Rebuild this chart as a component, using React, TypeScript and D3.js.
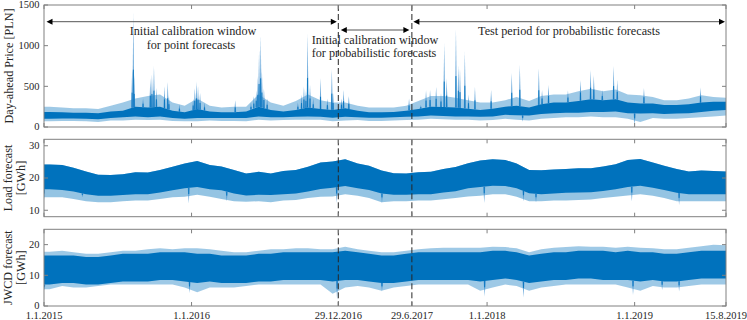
import React from 'react';
import * as d3 from 'd3';

// ---------- DATA (monthly envelopes, Jan 2015 .. Aug 2019) ----------
const priceMin = [
  70, 75, 75, 70, 60, 80, 80, 90, 85, 90, 75, 70,
  70, 80, 75, 75, 70, 90, 80, 85, 90, 90, 90, 70,
  80, 85, 75, 75, 80, 85, 90, 100, 95, 90, 90, 80,
  85, 100, 90, 80, 100, 110, 120, 120, 130, 120, 120, 100,
  60, 110, 100, 100, 110, 120, 130, 140,
];
const priceLo = [
  100, 105, 105, 100, 95, 110, 120, 130, 120, 130, 110, 100,
  110, 110, 110, 110, 110, 130, 120, 120, 125, 130, 125, 115,
  125, 120, 115, 115, 120, 125, 130, 140, 135, 130, 130, 125,
  130, 150, 145, 140, 160, 170, 175, 175, 185, 185, 190, 170,
  165, 170, 160, 165, 170, 185, 200, 210,
];
const priceHi = [
  185, 180, 175, 175, 170, 190, 200, 250, 240, 250, 200, 180,
  220, 190, 180, 180, 190, 250, 210, 190, 210, 240, 220, 210,
  230, 200, 180, 180, 185, 200, 220, 250, 245, 240, 225, 210,
  225, 250, 260, 240, 280, 300, 300, 320, 340, 330, 340, 300,
  290, 290, 270, 270, 280, 300, 310, 310,
];
const priceMax = [
  250, 240, 230, 230, 220, 260, 300, 350, 380, 400, 300, 260,
  350, 260, 240, 250, 250, 400, 300, 260, 320, 400, 330, 300,
  300, 260, 240, 240, 240, 260, 320, 380, 380, 360, 330, 300,
  300, 330, 370, 320, 380, 400, 400, 440, 470, 440, 460, 400,
  390, 370, 330, 330, 350, 390, 370, 360,
];
const priceSpikeDates = [
  '2015-08-07', '2015-08-10', '2015-08-12', '2015-09-03', '2015-09-21', '2015-09-25', '2015-09-30',
  '2015-10-06', '2015-10-26', '2015-11-03', '2015-11-06', '2015-12-02', '2016-01-05', '2016-01-09',
  '2016-01-13', '2016-01-17', '2016-01-22', '2016-02-02', '2016-04-18', '2016-05-27', '2016-06-03',
  '2016-06-09', '2016-06-13', '2016-06-16', '2016-06-20', '2016-06-23', '2016-06-28', '2016-07-06',
  '2016-09-20', '2016-09-29', '2016-10-05', '2016-10-10', '2016-10-14', '2016-10-20', '2016-10-28',
  '2016-11-15', '2016-12-02', '2016-12-13', '2016-12-16', '2017-01-06', '2017-01-11', '2017-01-24',
  '2017-06-22', '2017-07-21', '2017-08-03', '2017-08-13', '2017-08-28', '2017-09-09', '2017-09-17',
  '2017-09-23', '2017-10-16', '2017-10-22', '2017-10-26', '2017-11-07', '2017-11-16', '2017-12-02',
  '2018-01-11', '2018-03-03', '2018-03-23', '2018-05-09', '2018-05-17', '2018-06-02', '2018-07-20',
  '2018-08-20', '2018-09-14', '2018-09-22', '2018-10-13', '2018-11-10', '2018-11-19', '2019-01-24',
  '2019-06-13',
];
const priceSpikeValues = [
  700, 1400, 650, 350, 600, 650, 750,
  480, 500, 555, 380, 280, 350, 480,
  555, 500, 420, 300, 330, 300, 380,
  450, 620, 950, 1130, 700, 480, 350,
  300, 400, 500, 450, 1150, 520, 350,
  600, 350, 710, 420, 350, 455, 380,
  350, 270, 455, 455, 495, 415, 1030,
  600, 1205, 760, 720, 925, 395, 495,
  455, 668, 762, 721, 455, 516, 450,
  578, 700, 640, 455, 750, 578, 480,
  488,
];
const priceDipDates = ['2018-03-30', '2019-01-01'];
const priceDipValues = [65, 15];

const loadMin = [
  14.0, 14.0, 13.5, 12.8, 12.5, 12.5, 12.8, 13.0, 13.0, 13.5, 14.0, 14.2,
  14.8, 14.2, 13.5, 12.8, 12.6, 12.8, 12.5, 13.0, 13.2, 13.8, 14.2, 14.3,
  15.0, 14.5, 13.8, 12.5, 12.8, 12.8, 13.0, 13.0, 13.4, 13.8, 14.3, 14.5,
  15.0, 15.0, 14.2, 12.8, 12.8, 13.0, 13.0, 13.2, 13.3, 13.8, 14.2, 14.6,
  15.0, 14.5, 13.8, 12.8, 12.8, 12.8, 12.8, 12.8,
];
const loadLo = [
  16.5, 16.3, 15.8, 15.0, 14.5, 14.5, 14.7, 15.0, 15.0, 15.5, 16.2, 16.8,
  17.2, 16.5, 16.2, 15.2, 14.6, 14.8, 14.7, 15.0, 15.2, 15.8, 16.6, 17.0,
  17.5, 16.8, 16.3, 15.2, 14.8, 14.8, 15.0, 15.0, 15.5, 15.9, 16.8, 17.2,
  17.6, 17.5, 16.8, 15.3, 15.0, 15.2, 15.4, 15.5, 15.6, 16.0, 16.5, 17.2,
  17.6, 17.0, 16.3, 15.4, 15.0, 15.0, 15.0, 15.0,
];
const loadHi = [
  24.2, 24.0, 23.2, 22.0, 21.0, 20.9, 21.2, 21.8, 21.7, 22.5, 23.5, 24.5,
  25.3, 24.0, 23.6, 22.5, 21.4, 21.9, 21.4, 22.2, 22.5, 23.5, 24.8, 25.1,
  25.8, 24.5, 23.8, 22.3, 21.5, 21.4, 21.8, 21.9, 22.8, 23.4, 24.6, 25.4,
  25.8, 25.6, 24.5, 22.5, 22.4, 22.6, 22.8, 23.0, 23.0, 23.6, 24.3, 25.6,
  25.9, 24.8, 23.8, 22.8, 22.0, 22.3, 22.2, 22.0,
];
const loadDipDates = [
  '2015-01-01', '2015-04-06', '2015-12-25', '2016-03-28', '2016-12-25', '2017-04-16',
  '2017-12-25', '2018-04-01', '2018-05-02', '2018-12-25', '2019-04-21',
];
const loadDipValues = [13.2, 14.0, 12.2, 12.7, 12.2, 12.2, 12.2, 12.7, 12.4, 12.7, 11.6];

const jwcdMin = [
  5.5, 6.5, 6, 6, 6.5, 7, 7, 7, 7, 7, 7, 6,
  4.5, 6, 6, 6, 6.5, 7, 7, 7, 7, 7, 7, 4,
  6, 6.5, 6, 5, 6, 6.5, 7, 7, 7, 7, 7, 5,
  6, 7, 6.5, 5, 6, 6.5, 7, 7, 7, 7, 7, 6,
  5, 6.5, 6, 6, 6.5, 7, 7, 7,
];
const jwcdLo = [
  7, 7.5, 7.5, 7, 7, 7.5, 8, 8, 8, 8.5, 8.5, 8,
  7.5, 8, 7.5, 7.5, 7.5, 8, 8, 8.5, 8.5, 8.5, 8.5, 8,
  8.5, 8.5, 8, 7.5, 7.5, 8, 8.5, 8.5, 8.5, 8.5, 8.5, 8,
  8.5, 9, 8.5, 7.5, 8, 8.5, 8.5, 9, 9, 8.5, 8.5, 8.5,
  8, 8.5, 8, 8, 8.5, 9, 9, 9,
];
const jwcdHi = [
  16.5, 16.5, 16.5, 16, 16, 16.5, 17, 17, 17, 17.5, 17.5, 17.5,
  17, 17, 16.5, 16.5, 16.5, 17, 17, 17.5, 17.5, 17.5, 17.5, 17.5,
  18, 17.5, 17, 16.5, 16.5, 17, 17.5, 17.5, 17.5, 17.5, 17.5, 17.5,
  18, 18, 17.5, 16.5, 17, 17.5, 17.5, 18, 18, 18, 17.5, 18,
  17.5, 17.5, 17, 17, 17.5, 18, 18, 18,
];
const jwcdMax = [
  17.7, 18, 17.5, 17, 17, 17.5, 18, 18, 18.5, 18.8, 18.5, 18.8,
  18.8, 18.5, 18, 17.5, 17.5, 18, 18.5, 18.5, 18.8, 18.8, 18.5, 18.5,
  19.3, 18.5, 18, 17.5, 17.5, 18, 18.5, 18.8, 19, 19, 19, 19,
  19.3, 19.2, 18.8, 17.5, 18.5, 19, 19.2, 19.5, 19.3, 19.3, 19, 19.3,
  19, 18.8, 18.5, 18.5, 19, 19.5, 20, 19.8,
];
const jwcdDipDates = [
  '2015-01-02', '2015-12-27', '2016-12-26', '2017-04-16', '2017-12-26', '2018-04-01',
  '2018-12-28', '2019-03-10', '2019-04-21',
];
const jwcdDipValues = [5.2, 4.2, 2.0, 4.7, 3.0, 2.8, 3.6, 5.2, 4.7];

const tickDates = ['2015-01-01', '2016-01-01', '2016-12-29', '2017-06-29', '2018-01-01', '2019-01-01', '2019-08-15'];
const tickLabels = ['1.1.2015', '1.1.2016', '29.12.2016', '29.6.2017', '1.1.2018', '1.1.2019', '15.8.2019'];
const windowDates = ['2016-12-29', '2017-06-29'];

// ---------- LAYOUT ----------
const W = 747, H = 320;
const X0 = 44, X1 = 726;
const BLUE = '#0072BD';
const AX = '#808080';
const FONT = 'Liberation Serif, Times New Roman, serif';

const parse = (s: string) => {
  const [y, m, d] = s.split('-').map(Number);
  return new Date(Date.UTC(y, m - 1, d));
};
const startDate = parse('2015-01-01');
const endDate = parse('2019-08-15');
const x = d3.scaleUtc().domain([startDate, endDate]).range([X0, X1]);

// sample dates: start, then the 15th of every month (last = 15.8.2019)
const sampleDates: Date[] = [startDate, ...d3.range(56).map((m) => new Date(Date.UTC(2015, m, 15)))];
const withStart = (arr: number[]) => [arr[0], ...arr];

type Band = { lo: number[]; hi: number[]; fill: string; opacity: number };
type Marks = { dates: string[]; values: number[]; from: 'hi' | 'lo' };

interface PanelSpec {
  top: number;
  bottom: number;
  domain: [number, number];
  ticks: number[];
  label: string[];
  bands: Band[];
  marks: Marks[];
  baseHi: number[];
  baseLo: number[];
}

const panels: PanelSpec[] = [
  {
    top: 5, bottom: 127, domain: [0, 1500], ticks: [0, 500, 1000, 1500], label: ['Day-ahead Price [PLN]'],
    bands: [
      { lo: priceMin, hi: priceMax, fill: BLUE, opacity: 0.38 },
      { lo: priceLo, hi: priceHi, fill: BLUE, opacity: 1 },
    ],
    marks: [
      { dates: priceSpikeDates, values: priceSpikeValues, from: 'hi' },
      { dates: priceDipDates, values: priceDipValues, from: 'lo' },
    ],
    baseHi: priceHi, baseLo: priceLo,
  },
  {
    top: 139.3, bottom: 216.7, domain: [8, 32], ticks: [10, 20, 30], label: ['Load forecast', '[GWh]'],
    bands: [
      { lo: loadMin, hi: loadHi, fill: BLUE, opacity: 0.42 },
      { lo: loadLo, hi: loadHi, fill: BLUE, opacity: 1 },
    ],
    marks: [{ dates: loadDipDates, values: loadDipValues, from: 'lo' }],
    baseHi: loadHi, baseLo: loadLo,
  },
  {
    top: 229.3, bottom: 306, domain: [0, 25], ticks: [0, 10, 20], label: ['JWCD forecast', '[GWh]'],
    bands: [
      { lo: jwcdMin, hi: jwcdMax, fill: BLUE, opacity: 0.38 },
      { lo: jwcdLo, hi: jwcdHi, fill: BLUE, opacity: 1 },
    ],
    marks: [{ dates: jwcdDipDates, values: jwcdDipValues, from: 'lo' }],
    baseHi: jwcdHi, baseLo: jwcdLo,
  },
];

const Panel: React.FC<{ p: PanelSpec; idx: number; last: boolean }> = ({ p, idx, last }) => {
  const y = d3.scaleLinear().domain(p.domain).range([p.bottom, p.top]);
  const dates = sampleDates;
  const interpHi = d3.scaleUtc().domain(dates).range(withStart(p.baseHi)).clamp(true);
  const interpLo = d3.scaleUtc().domain(dates).range(withStart(p.baseLo)).clamp(true);
  const clipId = `clip${idx}`;
  const labelX = p.label.length === 1 ? [12.5] : [11.5, 24.5];
  const cy = (p.top + p.bottom) / 2;
  return (
    <g>
      <defs>
        <clipPath id={clipId}>
          <rect x={X0} y={p.top} width={X1 - X0} height={p.bottom - p.top} />
        </clipPath>
      </defs>
      <g clipPath={`url(#${clipId})`}>
        {p.bands.map((b, i) => {
          const lo = withStart(b.lo);
          const hi = withStart(b.hi);
          const area = d3
            .area<number>()
            .x((_, j) => x(dates[j]))
            .y0((_, j) => y(lo[j]))
            .y1((_, j) => y(hi[j]));
          return <path key={i} d={area(d3.range(dates.length)) || ''} fill={b.fill} fillOpacity={b.opacity} />;
        })}
        {p.marks.map((m, i) =>
          m.dates.map((ds, j) => {
            const d = parse(ds);
            const cx = x(d);
            const base = m.from === 'hi' ? interpHi(d) : interpLo(d);
            const y0 = y(base);
            const y1 = y(m.values[j]);
            return (
              <g key={`${i}-${j}`}>
                <polygon
                  points={`${cx - 1},${y0} ${cx},${y1} ${cx + 1},${y0}`}
                  fill="#3d8fd0"
                  fillOpacity={0.75}
                />
                <line x1={cx} x2={cx} y1={y0} y2={y0 + (y1 - y0) * 0.4} stroke={BLUE} strokeWidth={0.9} />
              </g>
            );
          })
        )}
      </g>
      {windowDates.map((ds) => (
        <line
          key={ds}
          x1={x(parse(ds))}
          x2={x(parse(ds))}
          y1={p.top}
          y2={p.bottom}
          stroke="#262626"
          strokeWidth={1}
          strokeDasharray="6 3"
        />
      ))}
      <rect x={X0} y={p.top} width={X1 - X0} height={p.bottom - p.top} fill="none" stroke={AX} strokeWidth={1} />
      {tickDates.map((ds) => {
        const tx = x(parse(ds));
        return (
          <g key={ds}>
            <line x1={tx} x2={tx} y1={p.bottom} y2={p.bottom - 4} stroke={AX} />
            <line x1={tx} x2={tx} y1={p.top} y2={p.top + 4} stroke={AX} />
          </g>
        );
      })}
      {p.ticks.map((t) => (
        <g key={t}>
          <line x1={X0} x2={X0 + 4} y1={y(t)} y2={y(t)} stroke={AX} />
          <line x1={X1} x2={X1 - 4} y1={y(t)} y2={y(t)} stroke={AX} />
          <text x={39.5} y={y(t)} dy="0.32em" textAnchor="end" fontSize={10.5} fontFamily={FONT} fill="#262626">
            {t}
          </text>
        </g>
      ))}
      {p.label.map((l, i) => (
        <text
          key={l}
          transform={`translate(${labelX[i]},${cy}) rotate(-90)`}
          textAnchor="middle"
          fontSize={12.2}
          fontFamily={FONT}
          fill="#262626"
        >
          {l}
        </text>
      ))}
      {last &&
        tickDates.map((ds, i) => (
          <text
            key={ds}
            x={x(parse(ds))}
            y={318.5}
            textAnchor="middle"
            fontSize={10.5}
            fontFamily={FONT}
            fill="#262626"
          >
            {tickLabels[i]}
          </text>
        ))}
    </g>
  );
};

const Arrow: React.FC<{ x1: number; x2: number; y: number }> = ({ x1, x2, y }) => {
  const L = 6, h = 3;
  return (
    <g>
      <line x1={x1 + L - 1} x2={x2 - L + 1} y1={y} y2={y} stroke="#555" strokeWidth={1} />
      <polygon points={`${x1},${y} ${x1 + L},${y - h} ${x1 + L},${y + h}`} fill="#000" />
      <polygon points={`${x2},${y} ${x2 - L},${y - h} ${x2 - L},${y + h}`} fill="#000" />
    </g>
  );
};

export default function App() {
  const xs = x(startDate);
  const xa = x(parse(windowDates[0]));
  const xb = x(parse(windowDates[1]));
  const xe = x(endDate);
  const ann = { fontSize: 12.2, fontFamily: FONT, fill: '#262626', textAnchor: 'middle' as const };
  return (
    <svg width={W} height={H} style={{ position: 'absolute', left: 0, top: 0, background: '#fff' }}>
      {panels.map((p, i) => (
        <Panel key={i} p={p} idx={i} last={i === panels.length - 1} />
      ))}
      <Arrow x1={xs + 2.5} x2={xa - 1.5} y={21.7} />
      <Arrow x1={xa + 2.5} x2={xb - 2.5} y={30} />
      <Arrow x1={xb + 1.5} x2={xe - 1} y={21.7} />
      <text x={193} y={35.3} {...ann}>Initial calibration window</text>
      <text x={191} y={48.8} {...ann}>for point forecasts</text>
      <text x={375} y={43.5} {...ann}>Initial calibration window</text>
      <text x={374} y={57} {...ann}>for probabilistic forecasts</text>
      <text x={569} y={35.3} {...ann}>Test period for probabilistic forecasts</text>
    </svg>
  );
}
